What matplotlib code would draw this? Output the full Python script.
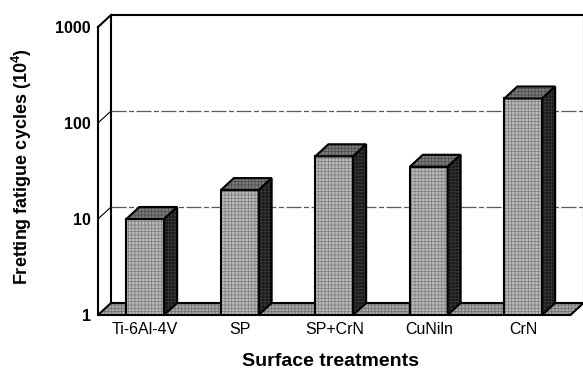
"""Fretting fatigue life of Ti-6Al-4V with different surface treatments,
drawn as a pseudo-3D column chart on a log axis."""

import matplotlib.pyplot as plt
import numpy as np
from matplotlib.patches import Polygon
from matplotlib.ticker import NullLocator
from matplotlib.transforms import ScaledTranslation

plt.rcParams["font.family"] = ["Liberation Sans", "DejaVu Sans"]
plt.rcParams["mathtext.fontset"] = "custom"
plt.rcParams["mathtext.rm"] = "Liberation Sans"
plt.rcParams["mathtext.bf"] = "Liberation Sans:bold"
plt.rcParams["hatch.linewidth"] = 0.5

treatments = ["Ti-6Al-4V", "SP", "SP+CrN", "CuNiln", "CrN"]
cycles = [10, 20, 45, 35, 180]  # units of 10^4 cycles
y_ticks = [1, 10, 100, 1000]
y_tick_labels = ["1", "10", "100", "1000"]
grid_levels = [10, 100]

DEPTH = (0.13, 0.12)  # inches, front plane -> back wall
BAR_WIDTH = 0.4
EDGE = 1.5

FRONT = ("#b8b8b8", "#7c7c7c")  # face colour, texture colour
TOP = ("#7a7a7a", "#4a4a4a")
SIDE = ("#1a1a1a", "#3a3a3a")
FLOOR = ("#a6a6a6", "#6e6e6e")

fig = plt.figure(figsize=(5.83, 3.74), dpi=100)
ax = fig.add_axes([98 / 583, 59 / 374, 472.5 / 583, 288 / 374])
ax.set_yscale("log")
ax.set_ylim(1, 1000)
ax.set_xlim(0, len(treatments))
ax.set_autoscale_on(False)

back = ax.transData + ScaledTranslation(*DEPTH, fig.dpi_scale_trans)


def to_back(x, y):
    """Data coords of the point (x, y) pushed back onto the rear wall."""
    return tuple(ax.transData.inverted().transform(back.transform((x, y))))


def textured(pts, colors, z):
    face, grain = colors
    ax.add_patch(Polygon(pts, closed=True, clip_on=False, facecolor=face,
                         edgecolor=grain, hatch="+++++", linewidth=0, zorder=z))
    ax.add_patch(Polygon(pts, closed=True, clip_on=False, facecolor="none",
                         edgecolor="black", linewidth=EDGE, zorder=z,
                         joinstyle="miter"))


n = len(treatments)

# back wall outline and gridlines
ax.plot([0, 0, n, n], [1, 1000, 1000, 1], transform=back, color="black",
        lw=EDGE, clip_on=False, zorder=0.5)
for g in grid_levels:
    ax.plot([0, n], [g, g], transform=back, color="#5a5a5a", lw=0.9,
            ls=(0, (12, 2, 4, 2)), clip_on=False, zorder=0.5)
    # short connector across the side wall
    ax.plot([0, to_back(0, g)[0]], [g, to_back(0, g)[1]], color="black",
            lw=0.8, clip_on=False, zorder=0.5)
ax.plot([0, to_back(0, 1000)[0]], [1000, to_back(0, 1000)[1]], color="black",
        lw=EDGE, clip_on=False, zorder=0.5)

# floor
textured([(0, 1), (n, 1), to_back(n, 1), to_back(0, 1)], FLOOR, 1)

# columns
xs = np.arange(n) + 0.5
for i, (x, v) in enumerate(zip(xs, cycles)):
    z = 2 + i
    l, r = x - BAR_WIDTH / 2, x + BAR_WIDTH / 2
    ax.bar(x, v - 1, bottom=1, width=BAR_WIDTH, color=FRONT[0],
           edgecolor=FRONT[1], hatch="+++++", linewidth=0, zorder=z)
    ax.bar(x, v - 1, bottom=1, width=BAR_WIDTH, fill=False,
           edgecolor="black", linewidth=EDGE, zorder=z)
    textured([(l, v), (r, v), to_back(r, v), to_back(l, v)], TOP, z)
    textured([(r, 1), (r, v), to_back(r, v), to_back(r, 1)], SIDE, z)

for side in ("top", "right", "bottom"):
    ax.spines[side].set_visible(False)
ax.spines["left"].set_linewidth(EDGE)
ax.spines["left"].set_zorder(10)

ax.set_yticks(y_ticks, y_tick_labels, fontsize=11.5, fontweight="bold")
ax.yaxis.set_minor_locator(NullLocator())
ax.set_xticks(xs, treatments, fontsize=11.5)
ax.tick_params(axis="y", length=0, pad=5)
ax.tick_params(axis="x", length=0, pad=5)

fig.text(22 / 583, 1 - 167 / 374, r"Fretting fatigue cycles (10$^{\mathbf{4}}$)",
         rotation=90, ha="center", va="center", fontsize=13, fontweight="bold")
fig.text(331 / 583, 1 - 362 / 374, "Surface treatments",
         ha="center", va="center", fontsize=14, fontweight="bold")

fig.savefig("out.png", dpi=100)
